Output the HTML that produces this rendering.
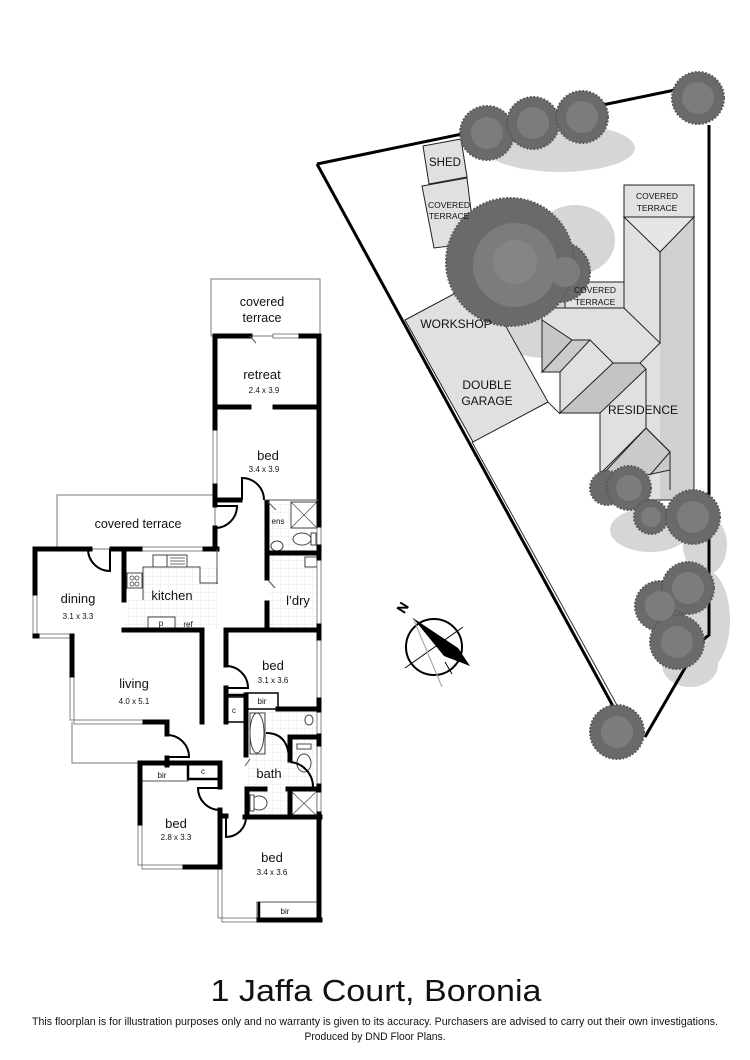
<!DOCTYPE html>
<html><head><meta charset="utf-8"><style>
html,body{margin:0;padding:0;background:#fff;}
svg{display:block;}
text{font-family:"Liberation Sans",sans-serif;fill:#111;}
</style></head><body>
<svg width="750" height="1060" viewBox="0 0 750 1060" xmlns="http://www.w3.org/2000/svg">
<defs>
<pattern id="g" width="8" height="8" patternUnits="userSpaceOnUse"><path d="M8 0H0V8" fill="none" stroke="#e2e2e2" stroke-width="0.8"/></pattern>
</defs>
<rect width="750" height="1060" fill="#fff"/>

<!-- ================= SITE PLAN ================= -->
<!-- shadows -->
<g fill="#d6d6d6">
<ellipse cx="560" cy="148" rx="75" ry="24"/>
<ellipse cx="548" cy="318" rx="68" ry="40"/>
<ellipse cx="575" cy="240" rx="40" ry="35"/>
<ellipse cx="650" cy="530" rx="40" ry="22"/>
<ellipse cx="705" cy="545" rx="22" ry="30"/>
<ellipse cx="705" cy="620" rx="25" ry="50"/>
<ellipse cx="690" cy="665" rx="28" ry="22"/>
</g>

<!-- boundary -->
<g fill="none" stroke="#000" stroke-width="3">
<path d="M317 164 L675 90"/>
<path d="M709 125 V635 L700 642 L645 737"/>
<path d="M317 164 L614 708"/>
</g>
<path d="M472 442 L618 707" stroke="#333" stroke-width="1" fill="none"/>
<path d="M548 402 L560 414" stroke="#333" stroke-width="1" fill="none"/>

<!-- shed & small terrace -->
<g fill="#e0e0e0" stroke="#222" stroke-width="1">
<polygon points="423,146 461,139 467,177 429,184"/>
<polygon points="422,186 467,178 475,243 434,248"/>
<!-- garage -->
<polygon points="405,320 480,280 548,402 473,442"/>
</g>

<!-- residence -->
<g stroke="#222" stroke-width="1">
<rect x="624" y="185" width="70" height="32" fill="#e2e2e2"/>
<rect x="565" y="282" width="60" height="26" fill="#e2e2e2"/>
<polygon points="542,308 624,308 624,217 694,217 694,500 600,500 600,413 560,413 560,372 542,372" fill="#e0e0e0"/>
<polygon points="660,252 694,217 694,500 660,500" fill="#d0d0d0" stroke="none"/>
<polygon points="624,217 694,217 660,252" fill="#e6e6e6"/>
<polygon points="542,372 572,340 590,340 560,372" fill="#cbcbcb"/>
<polygon points="542,320 572,340 542,372" fill="#c6c6c6"/>
<polygon points="560,413 613,363 640,363 646,369 600,413" fill="#c4c4c4"/>
<polygon points="646,428 670,452 670,470 647,475 602,475" fill="#cacaca"/>
</g>
<g fill="none" stroke="#222" stroke-width="1">
<path d="M660 252 V343 L624 308"/>
<path d="M660 343 L640 363 L613 363 L590 340 L572 340"/>
<path d="M646 369 V428 L602 472 M646 428 L670 452 V490 M670 452 L650 475"/>
<path d="M694 217 V500"/>
<polygon points="542,308 624,308 624,217 694,217 694,500 600,500 600,413 560,413 560,372 542,372"/>
</g>

<!-- trees -->
<g fill="#6a6a6a" stroke="#5a5a5a" stroke-width="2" stroke-dasharray="2 1.5">
<circle cx="487" cy="133" r="27"/>
<circle cx="533" cy="123" r="26"/>
<circle cx="582" cy="117" r="26"/>
<circle cx="698" cy="98" r="26"/>
<circle cx="560" cy="272" r="30"/>
<circle cx="510" cy="262" r="64"/>
<circle cx="607" cy="488" r="17"/>
<circle cx="629" cy="488" r="22"/>
<circle cx="651" cy="517" r="17"/>
<circle cx="693" cy="517" r="27"/>
<circle cx="660" cy="606" r="25"/>
<circle cx="688" cy="588" r="26"/>
<circle cx="677" cy="642" r="27"/>
<circle cx="617" cy="732" r="27"/>
</g>
<g fill="#7c7c7c">
<circle cx="487" cy="133" r="16"/>
<circle cx="533" cy="123" r="16"/>
<circle cx="582" cy="117" r="16"/>
<circle cx="698" cy="98" r="16"/>
<circle cx="565" cy="272" r="15"/>
<circle cx="515" cy="265" r="42"/>
<circle cx="629" cy="488" r="13"/>
<circle cx="651" cy="517" r="10"/>
<circle cx="693" cy="517" r="16"/>
<circle cx="660" cy="606" r="15"/>
<circle cx="688" cy="588" r="16"/>
<circle cx="677" cy="642" r="16"/>
<circle cx="617" cy="732" r="16"/>
</g>
<circle cx="515" cy="262" r="22" fill="#858585"/>

<!-- site labels -->
<g font-size="12" text-anchor="middle">
<text x="445" y="166" font-size="11.5">SHED</text>
<text x="449" y="208" font-size="8.5">COVERED</text>
<text x="449" y="219" font-size="8.5">TERRACE</text>
<text x="657" y="199" font-size="8.5">COVERED</text>
<text x="657" y="211" font-size="8.5">TERRACE</text>
<text x="595" y="293" font-size="8.5">COVERED</text>
<text x="595" y="305" font-size="8.5">TERRACE</text>
<text x="456" y="328" font-size="12">WORKSHOP</text>
<text x="487" y="389" font-size="12">DOUBLE</text>
<text x="487" y="405" font-size="12">GARAGE</text>
<text x="643" y="414" font-size="12">RESIDENCE</text>
</g>

<!-- compass -->
<g>
<circle cx="434" cy="647" r="28" fill="none" stroke="#000" stroke-width="2"/>
<path d="M405 668 L463 627 M445 662 L452 674" stroke="#000" stroke-width="1"/>
<path d="M413 618 L442 687" stroke="#aaa" stroke-width="1.2"/>
<polygon points="413,618 458,648 470,666 444,656" fill="#000"/>
<text x="0" y="0" font-size="13" transform="translate(404,614) rotate(-58)" fill="none" stroke="#000" stroke-width="0.8">N</text>
</g>

<!-- ================= FLOOR PLAN ================= -->
<!-- terraces -->
<g fill="none" stroke="#777" stroke-width="1">
<rect x="211" y="279" width="109" height="57"/>
<rect x="57" y="495" width="158" height="54"/>
<path d="M72 722 V763 H140"/>
</g>

<!-- floor grids -->
<rect x="125" y="567" width="92" height="62" fill="url(#g)"/>
<rect x="268" y="502" width="50" height="51" fill="url(#g)"/>
<rect x="268" y="555" width="50" height="74" fill="url(#g)"/>
<rect x="248" y="711" width="70" height="105" fill="url(#g)"/>

<!-- kitchen fixtures -->
<g fill="#fff" stroke="#444" stroke-width="1">
<rect x="125" y="551" width="92" height="16" stroke="none"/>
<rect x="127" y="551" width="16" height="49" stroke="none"/>
<path d="M143 600 V567 H200 V583 H218" fill="none"/>
<rect x="127" y="573" width="15" height="15"/>
<rect x="153" y="555" width="14" height="12"/>
<rect x="167" y="555" width="20" height="12"/>
<path d="M170 558 H185 M170 561 H185 M170 564 H185" stroke-width="0.7"/>
<rect x="148" y="617" width="27" height="12"/>
</g>
<g fill="none" stroke="#444" stroke-width="0.8">
<circle cx="132" cy="578" r="2"/><circle cx="137" cy="578" r="2"/>
<circle cx="132" cy="584" r="2"/><circle cx="137" cy="584" r="2"/>
</g>

<!-- wet area fixtures -->
<g fill="#fff" stroke="#444" stroke-width="1">
<rect x="291" y="502" width="26" height="26"/>
<path d="M291 502 L317 528 M317 502 L291 528" fill="none" stroke-width="0.7"/>
<ellipse cx="302" cy="539" rx="9" ry="6"/>
<rect x="311" y="533" width="5" height="12"/>
<ellipse cx="277" cy="546" rx="6" ry="5"/>
<rect x="305" y="557" width="12" height="10"/>
<ellipse cx="257" cy="733" rx="7" ry="20"/>
<rect x="250" y="713" width="15" height="41" fill="none"/>
<ellipse cx="309" cy="720" rx="4" ry="5"/>
<ellipse cx="304" cy="763" rx="7" ry="9"/>
<rect x="297" y="744" width="14" height="5"/>
<ellipse cx="259" cy="803" rx="8" ry="7"/>
<rect x="250" y="795" width="4" height="16"/>
<rect x="291" y="791" width="26" height="25"/>
<path d="M291 791 L317 816 M317 791 L291 816" fill="none" stroke-width="0.7"/>
</g>

<!-- closets -->
<g fill="#fff" stroke="#000" stroke-width="1.5">
<rect x="226" y="697" width="20" height="25"/>
<rect x="246" y="693" width="32" height="16"/>
<rect x="140" y="763" width="48" height="18" stroke="#555" stroke-width="1"/>
<rect x="188" y="763" width="32" height="16"/>
<rect x="257" y="902" width="63" height="19" stroke="#555" stroke-width="1"/>
</g>

<!-- windows -->
<g fill="#fff" stroke="#666" stroke-width="0.8">
<rect x="273" y="334" width="28" height="4"/>
<rect x="213" y="430" width="4" height="54"/>
<rect x="142" y="547" width="61" height="4"/>
<rect x="33" y="595" width="4" height="41"/>
<rect x="38" y="634" width="32" height="4"/>
<rect x="70" y="677" width="4" height="43"/>
<rect x="74" y="720" width="69" height="4"/>
<rect x="138" y="825" width="4" height="40"/>
<rect x="142" y="865" width="41" height="4"/>
<rect x="218" y="867" width="4" height="51"/>
<rect x="222" y="918" width="35" height="4"/>
<rect x="317" y="527" width="4" height="18"/>
<rect x="317" y="560" width="4" height="64"/>
<rect x="317" y="640" width="4" height="58"/>
<rect x="317" y="712" width="4" height="22"/>
<rect x="317" y="746" width="4" height="38"/>
<rect x="317" y="792" width="4" height="20"/>
</g>

<!-- walls -->
<g fill="none" stroke="#000" stroke-width="5" stroke-linecap="square">
<path d="M215 336 H250 M301 336 H319"/>
<path d="M215 336 V428 M215 486 V500 H240"/>
<path d="M319 336 V525 M319 547 V558 M319 626 V638 M319 700 V710 M319 736 V744 M319 786 V790 M319 814 V920"/>
<path d="M215 407 H249 M275 407 H319"/>
<path d="M267 502 V578 M267 603 V628"/>
<path d="M267 553 H319"/>
<path d="M215 500 V505 M215 528 V549"/>
<path d="M35 549 H90 M112 549 H140 M205 549 H217"/>
<path d="M124 549 V600"/>
<path d="M35 549 V593 M35 636 H37 M72 636 V675 M145 722 H167 V734 M167 758 V765"/>
<path d="M124 630 H202 V722"/>
<path d="M226 630 H319"/>
<path d="M226 630 V665 M226 688 V722"/>
<path d="M246 695 V755 M278 709 H319"/>
<path d="M247 789 V817 M247 789 H265 M290 737 V760 M290 737 H318 M288 789 H318 M290 789 V817"/>
<path d="M222 816 H226 M245 817 H320"/>
<path d="M140 763 H220 M140 763 V823 M185 867 H220 M220 763 V787 M220 810 V866"/>
<path d="M220 816 V865 M259 920 H320"/>
</g>
<g fill="none" stroke="#000" stroke-width="2.5">
<path d="M246 695 H226 M188 763 V779 H220"/>
<path d="M259 902 V920"/>
</g>

<!-- doors -->
<g fill="none" stroke="#000" stroke-width="2">
<path d="M242 500 V478 A22 22 0 0 1 264 500"/>
<path d="M215 506 H237 A22 22 0 0 1 215 528"/>
<path d="M110 549 V571 A22 22 0 0 1 88 549"/>
<path d="M167 757 H189 A22 22 0 0 0 167 735"/>
<path d="M226 688 H248 A22 22 0 0 0 226 666"/>
<path d="M220 788 H198 A22 22 0 0 0 220 810"/>
<path d="M226 816 V837 A20 20 0 0 0 246 817"/>
<path d="M290 762 A25 25 0 0 1 313 787"/>
<path d="M266 733 Q287 733 289 757"/>
</g>
<g fill="none" stroke="#555" stroke-width="1">
<path d="M250 336 L256 343"/>
<path d="M264 500 H319"/>
<path d="M268 502 L276 510"/>
<path d="M268 580 L275 588"/>
<path d="M250 759 L245 766"/>
<path d="M217 549 V584"/>
</g>

<!-- room labels -->
<g text-anchor="middle" font-size="13">
<text x="262" y="306" font-size="12.5">covered</text>
<text x="262" y="322" font-size="12.5">terrace</text>
<text x="262" y="379">retreat</text>
<text x="268" y="460">bed</text>
<text x="138" y="528" font-size="12.5">covered terrace</text>
<text x="78" y="603">dining</text>
<text x="172" y="600">kitchen</text>
<text x="298" y="605">l’dry</text>
<text x="134" y="688">living</text>
<text x="273" y="670">bed</text>
<text x="269" y="778">bath</text>
<text x="176" y="828">bed</text>
<text x="272" y="862">bed</text>
</g>
<g text-anchor="middle" font-size="8">
<text x="264" y="393">2.4 x 3.9</text>
<text x="264" y="472">3.4 x 3.9</text>
<text x="278" y="524">ens</text>
<text x="78" y="619">3.1 x 3.3</text>
<text x="161" y="626">p</text>
<text x="188" y="627">ref</text>
<text x="134" y="704">4.0 x 5.1</text>
<text x="273" y="683">3.1 x 3.6</text>
<text x="262" y="704">bir</text>
<text x="234" y="713">c</text>
<text x="162" y="778">bir</text>
<text x="203" y="774">c</text>
<text x="176" y="840">2.8 x 3.3</text>
<text x="272" y="875">3.4 x 3.6</text>
<text x="285" y="914">bir</text>
</g>

<!-- title & footer -->
<text x="376" y="1001" font-size="31" text-anchor="middle" textLength="331" lengthAdjust="spacingAndGlyphs">1 Jaffa Court, Boronia</text>
<text x="375" y="1025" font-size="11" text-anchor="middle" textLength="686" lengthAdjust="spacingAndGlyphs">This floorplan is for illustration purposes only and no warranty is given to its accuracy. Purchasers are advised to carry out their own investigations.</text>
<text x="375" y="1040" font-size="11" text-anchor="middle" textLength="141" lengthAdjust="spacingAndGlyphs">Produced by DND Floor Plans.</text>
</svg>
</body></html>
